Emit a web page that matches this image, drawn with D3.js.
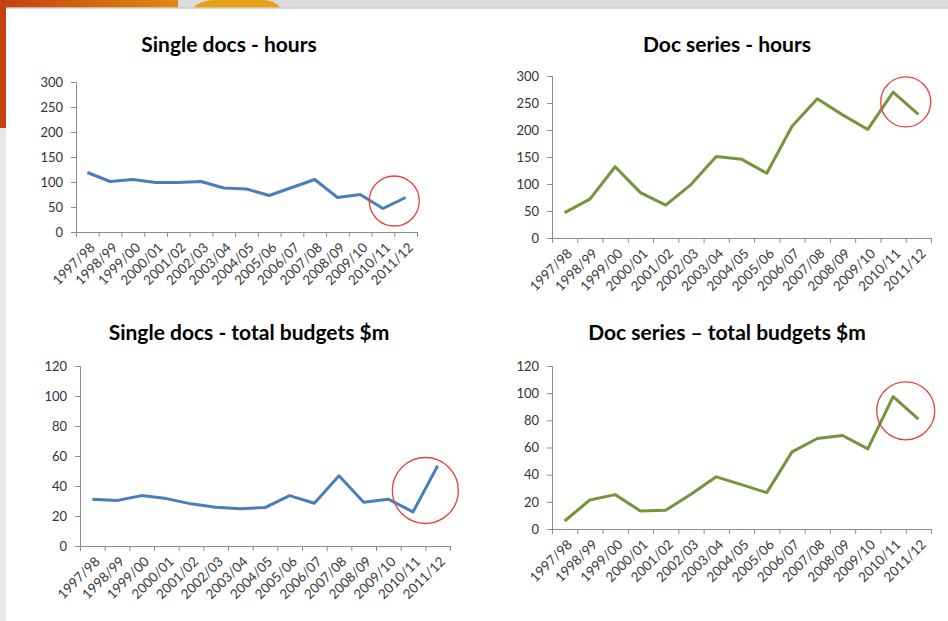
<!DOCTYPE html>
<html>
<head>
<meta charset="utf-8">
<script src="https://cdn.jsdelivr.net/npm/d3@7"></script>
<style>
  body { margin: 0; background: #fff; }
  text { font-family: Lato, "Open Sans", sans-serif; }
</style>
</head>
<body>
<script>
var width = 948;
var height = 621;

var years = ["1997/98", "1998/99", "1999/00", "2000/01", "2001/02", "2002/03", "2003/04",
  "2004/05", "2005/06", "2006/07", "2007/08", "2008/09", "2009/10", "2010/11", "2011/12"];
var singleHours = [119, 101, 105, 99, 99, 101, 88, 86, 73, 89, 105, 69, 75, 47, 69];
var seriesHours = [47, 72, 132, 84, 61, 99, 151, 146, 120, 207, 258, 228, 201, 270, 229];
var singleBudget = [31.2, 30.3, 33.6, 31.6, 28.1, 25.8, 24.9, 25.6, 33.6, 28.5, 46.8, 29.2, 31.2, 22.7, 53.5];
var seriesBudget = [5.9, 21.4, 25.3, 13.3, 13.8, 25.6, 38.4, 32.7, 26.8, 56.8, 66.6, 68.8, 59, 97.4, 80.9];
var hoursTicks = [0, 50, 100, 150, 200, 250, 300];
var budgetTicks = [0, 20, 40, 60, 80, 100, 120];
var titles = ["Single docs - hours", "Doc series - hours",
  "Single docs - total budgets $m", "Doc series \u2013 total budgets $m"];
// value the red highlight circle is centred on (between 2010/11 and 2011/12)
var circleValues = [62, 252, 37, 87];

var blue = "#4a7ebb";
var green = "#77933c";

var svg = d3.select("body").append("svg")
  .attr("width", width)
  .attr("height", height);

// slide frame
var defs = svg.append("defs");
var grad = defs.append("linearGradient").attr("id", "topGrad");
grad.append("stop").attr("offset", "0%").attr("stop-color", "#c2410f");
grad.append("stop").attr("offset", "100%").attr("stop-color", "#e08a12");

svg.append("rect").attr("width", width).attr("height", height).attr("fill", "#e9e9e9");
svg.append("rect").attr("x", 0).attr("y", 0).attr("width", width).attr("height", 8).attr("fill", "#dcdcdc");
svg.append("rect").attr("x", 0).attr("y", 0).attr("width", 178).attr("height", 8).attr("fill", "url(#topGrad)");
svg.append("rect").attr("x", 0).attr("y", 0).attr("width", 6).attr("height", 128).attr("fill", "#c4420f");
svg.append("path").attr("d", "M193,8 Q200,0 215,0 L262,0 Q276,0 280,8 Z").attr("fill", "#e8a114");
svg.append("rect").attr("x", 6).attr("y", 8).attr("width", width - 6).attr("height", height - 8)
  .attr("fill", "#ffffff");
svg.append("line").attr("x1", 6).attr("x2", width).attr("y1", 8).attr("y2", 8)
  .attr("stroke", "#cfcfcf").attr("stroke-width", 1.5);

var charts = [
  { values: singleHours, ticks: hoursTicks, color: blue, x0: 76, x1: 417, top: 82, bottom: 232, tx: 229, ty: 52, r: 25 },
  { values: seriesHours, ticks: hoursTicks, color: green, x0: 552, x1: 931, top: 76, bottom: 238, tx: 727, ty: 52, r: 25 },
  { values: singleBudget, ticks: budgetTicks, color: blue, x0: 80, x1: 450, top: 366, bottom: 546, tx: 249, ty: 340, r: 33 },
  { values: seriesBudget, ticks: budgetTicks, color: green, x0: 552, x1: 931, top: 366, bottom: 529, tx: 727, ty: 340, r: 29 }
];

charts.forEach(function (c, i) {
  var g = svg.append("g");
  var x = d3.scaleBand().domain(years).range([c.x0, c.x1]);
  var xEdge = d3.scaleLinear().domain([0, years.length]).range([c.x0, c.x1]);
  var y = d3.scaleLinear().domain([0, d3.max(c.ticks)]).range([c.bottom, c.top]);

  g.append("text")
    .attr("x", c.tx)
    .attr("y", c.ty)
    .attr("text-anchor", "middle")
    .attr("font-size", "21px")
    .attr("font-weight", "bold")
    .attr("fill", "#000")
    .text(titles[i]);

  var yAxis = g.append("g")
    .attr("transform", "translate(" + c.x0 + ",0)")
    .call(d3.axisLeft(y).tickValues(c.ticks).tickSize(5).tickPadding(8));
  yAxis.selectAll("text").attr("font-size", "13px").attr("fill", "#333")
    .style("font-family", "Lato, sans-serif");

  var xAxis = g.append("g")
    .attr("transform", "translate(0," + c.bottom + ")")
    .call(d3.axisBottom(xEdge).tickValues(d3.range(years.length + 1)).tickSize(5).tickFormat(""));

  [yAxis, xAxis].forEach(function (a) {
    a.select(".domain").attr("stroke", "#8c8c8c");
    a.selectAll(".tick line").attr("stroke", "#8c8c8c");
  });

  g.selectAll(".xlab")
    .data(years)
    .enter()
    .append("text")
    .attr("class", "xlab")
    .attr("transform", function (d) {
      return "translate(" + (x(d) + x.bandwidth() / 2 + 5) + "," + (c.bottom + 13) + ") rotate(-45)";
    })
    .attr("text-anchor", "end")
    .attr("dy", "0.35em")
    .attr("font-size", "13.5px")
    .attr("fill", "#3a3a3a")
    .text(function (d) { return d; });

  var line = d3.line()
    .x(function (d, j) { return x(years[j]) + x.bandwidth() / 2; })
    .y(function (d) { return y(d); });

  g.append("path")
    .datum(c.values)
    .attr("d", line)
    .attr("fill", "none")
    .attr("stroke", c.color)
    .attr("stroke-width", 3)
    .attr("stroke-linejoin", "round");

  g.append("circle")
    .attr("cx", xEdge(years.length - 1))
    .attr("cy", y(circleValues[i]))
    .attr("r", c.r)
    .attr("fill", "none")
    .attr("stroke", "#e8403f")
    .attr("stroke-width", 1.3);
});
</script>
</body>
</html>
